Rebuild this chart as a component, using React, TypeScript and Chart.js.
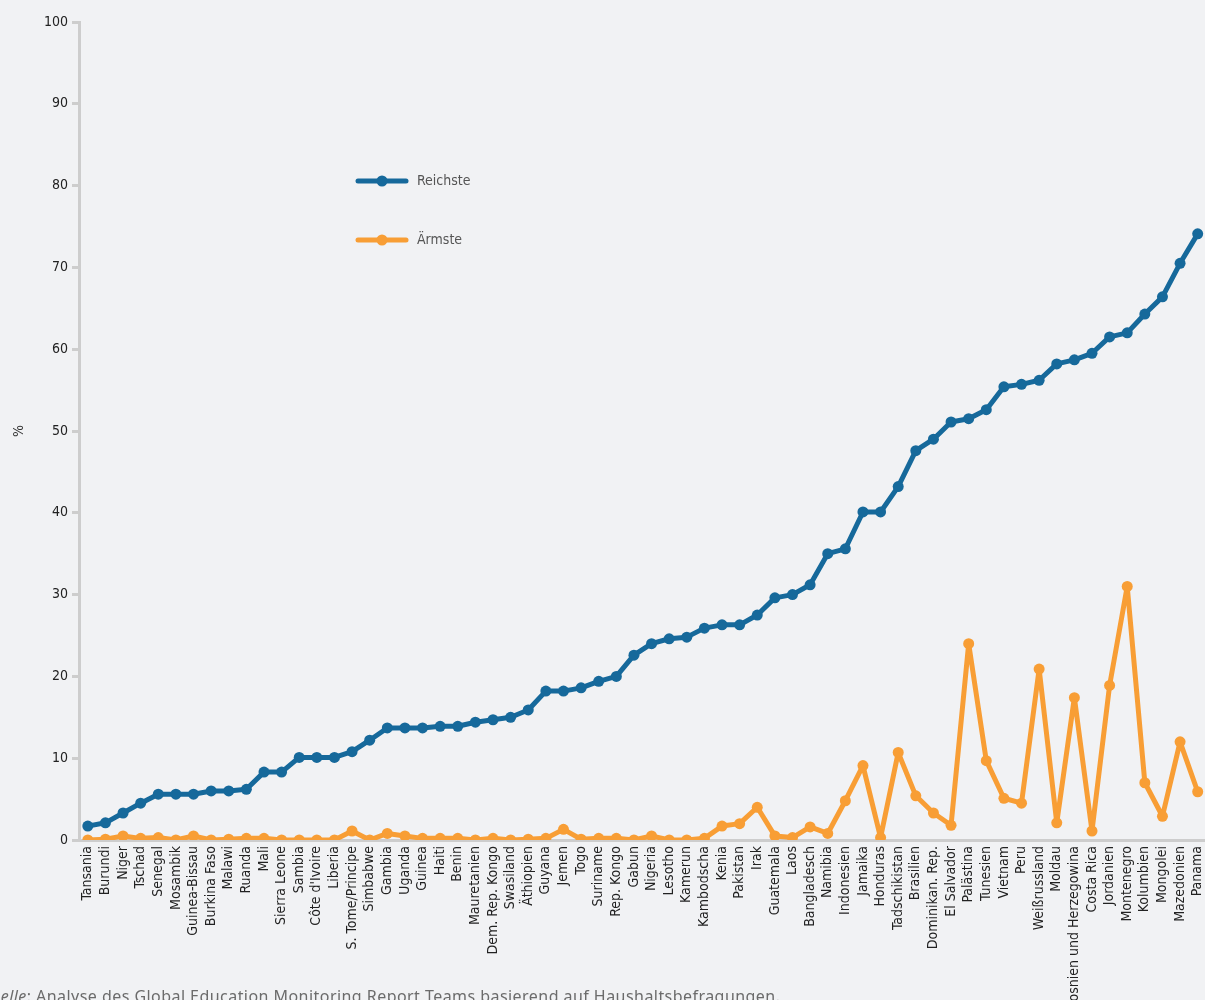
import React, { useEffect, useRef } from "react";
import { Chart, registerables } from "chart.js";

Chart.register(...registerables);

const countries: string[] = [
  "Tansania", "Burundi", "Niger", "Tschad", "Senegal", "Mosambik", "Guinea-Bissau", "Burkina Faso",
  "Malawi", "Ruanda", "Mali", "Sierra Leone", "Sambia", "Côte d'Ivoire", "Liberia", "S. Tome/Principe",
  "Simbabwe", "Gambia", "Uganda", "Guinea", "Haiti", "Benin", "Mauretanien", "Dem. Rep. Kongo",
  "Swasiland", "Äthiopien", "Guyana", "Jemen", "Togo", "Suriname", "Rep. Kongo", "Gabun",
  "Nigeria", "Lesotho", "Kamerun", "Kambodscha", "Kenia", "Pakistan", "Irak", "Guatemala",
  "Laos", "Bangladesch", "Namibia", "Indonesien", "Jamaika", "Honduras", "Tadschikistan", "Brasilien",
  "Dominikan. Rep.", "El Salvador", "Palästina", "Tunesien", "Vietnam", "Peru", "Weißrussland", "Moldau",
  "Bosnien und Herzegowina", "Costa Rica", "Jordanien", "Montenegro", "Kolumbien", "Mongolei", "Mazedonien", "Panama",
];

const richest: number[] = [
  1.7, 2.1, 3.3, 4.5, 5.6, 5.6, 5.6, 6.0,
  6.0, 6.2, 8.3, 8.3, 10.1, 10.1, 10.1, 10.8,
  12.2, 13.7, 13.7, 13.7, 13.9, 13.9, 14.4, 14.7,
  15.0, 15.9, 18.2, 18.2, 18.6, 19.4, 20.0, 22.6,
  24.0, 24.6, 24.8, 25.9, 26.3, 26.3, 27.5, 29.6,
  30.0, 31.2, 35.0, 35.6, 40.1, 40.1, 43.2, 47.6,
  49.0, 51.1, 51.5, 52.6, 55.4, 55.7, 56.2, 58.2,
  58.7, 59.5, 61.5, 62.0, 64.3, 66.4, 70.5, 74.1,
];

const poorest: number[] = [
  0.0, 0.1, 0.5, 0.2, 0.3, 0.0, 0.5, 0.0,
  0.1, 0.2, 0.2, 0.0, 0.0, 0.0, 0.0, 1.1,
  0.0, 0.8, 0.5, 0.2, 0.2, 0.2, 0.0, 0.2,
  0.0, 0.1, 0.2, 1.3, 0.1, 0.2, 0.2, 0.0,
  0.5, 0.0, 0.0, 0.2, 1.7, 2.0, 4.0, 0.5,
  0.3, 1.6, 0.8, 4.8, 9.1, 0.3, 10.7, 5.4,
  3.3, 1.8, 24.0, 9.7, 5.1, 4.5, 20.9, 2.1,
  17.4, 1.1, 18.9, 31.0, 7.0, 2.9, 12.0, 5.9,
];

const yTicks: number[] = [0, 10, 20, 30, 40, 50, 60, 70, 80, 90, 100];

const seriesNames = ["Reichste", "Ärmste"];
const BLUE = "#16699B";
const ORANGE = "#F89E35";
const BG = "#F1F2F4";
const AXIS = "#CDCDCD";
const FONT = "'Liberation Sans Narrow', 'DejaVu Sans Condensed', sans-serif";

const legendPlugin = {
  id: "insideLegend",
  afterDraw(chart: any) {
    const ctx = chart.ctx;
    const items = [
      { label: seriesNames[0], color: BLUE, y: 181 },
      { label: seriesNames[1], color: ORANGE, y: 240 },
    ];
    ctx.save();
    items.forEach((it) => {
      ctx.strokeStyle = it.color;
      ctx.lineWidth = 5;
      ctx.lineCap = "round";
      ctx.beginPath();
      ctx.moveTo(358, it.y);
      ctx.lineTo(406, it.y);
      ctx.stroke();
      ctx.fillStyle = it.color;
      ctx.beginPath();
      ctx.arc(382, it.y, 5.5, 0, Math.PI * 2);
      ctx.fill();
      ctx.fillStyle = "#555";
      ctx.font = `14px ${FONT}`;
      ctx.textBaseline = "middle";
      ctx.textAlign = "left";
      ctx.fillText(it.label, 417, it.y);
    });
    ctx.restore();
  },
};

export default function App() {
  const ref = useRef<HTMLCanvasElement | null>(null);

  useEffect(() => {
    if (!ref.current) return;
    const chart = new Chart(ref.current, {
      type: "line",
      data: {
        labels: countries,
        datasets: [
          {
            label: seriesNames[0],
            data: richest,
            borderColor: BLUE,
            backgroundColor: BLUE,
            borderWidth: 5,
            borderJoinStyle: "round",
            borderCapStyle: "round",
            pointRadius: 5.5,
            pointBackgroundColor: BLUE,
            pointBorderWidth: 0,
            tension: 0,
          },
          {
            label: seriesNames[1],
            data: poorest,
            borderColor: ORANGE,
            backgroundColor: ORANGE,
            borderWidth: 5,
            borderJoinStyle: "round",
            borderCapStyle: "round",
            pointRadius: 5.5,
            pointBackgroundColor: ORANGE,
            pointBorderWidth: 0,
            tension: 0,
          },
        ],
      },
      options: {
        animation: false,
        responsive: false,
        maintainAspectRatio: false,
        layout: { padding: { top: 22, left: 0, right: 0, bottom: 0 } },
        plugins: {
          legend: { display: false },
          tooltip: { enabled: false },
        },
        scales: {
          x: {
            type: "category",
            offset: true,
            grid: { display: false, drawTicks: false },
            border: { display: true, color: AXIS, width: 3 },
            ticks: {
              autoSkip: false,
              maxRotation: 90,
              minRotation: 90,
              padding: 6,
              color: "#222",
              font: { family: FONT, size: 14 },
            },
            afterFit: (scale: any) => {
              scale.height = 160;
              scale.paddingLeft = 0;
              scale.paddingRight = 0;
            },
          },
          y: {
            min: 0,
            max: 100,
            afterBuildTicks: (scale: any) => {
              scale.ticks = yTicks.map((v) => ({ value: v }));
            },
            grid: { drawOnChartArea: false, drawTicks: true, tickLength: 7, color: AXIS, lineWidth: 3 },
            border: { display: true, color: AXIS, width: 3 },
            ticks: {
              padding: 4,
              color: "#222",
              font: { family: FONT, size: 14 },
            },
            title: {
              display: true,
              text: "%",
              color: "#333",
              padding: { top: 11, bottom: 0 },
              font: { family: FONT, size: 14 },
            },
            afterFit: (scale: any) => {
              scale.width = 79;
            },
          },
        },
      },
      plugins: [legendPlugin],
    } as any);
    return () => chart.destroy();
  }, []);

  return (
    <div
      style={{
        position: "fixed",
        left: 0,
        top: 0,
        width: 1205,
        height: 1000,
        background: BG,
        overflow: "hidden",
      }}
    >
      <canvas ref={ref} width={1212} height={1000} style={{ position: "absolute", left: 0, top: 0, width: 1212, height: 1000 }} />
      <div
        style={{
          position: "absolute",
          left: -21,
          top: 985,
          fontFamily: "'Noto Sans', sans-serif",
          fontSize: 16,
          color: "#6b6b6b",
          whiteSpace: "nowrap",
          letterSpacing: 0.45,
        }}
      >
        <i>Quelle</i>: Analyse des Global Education Monitoring Report Teams basierend auf Haushaltsbefragungen.
      </div>
    </div>
  );
}
